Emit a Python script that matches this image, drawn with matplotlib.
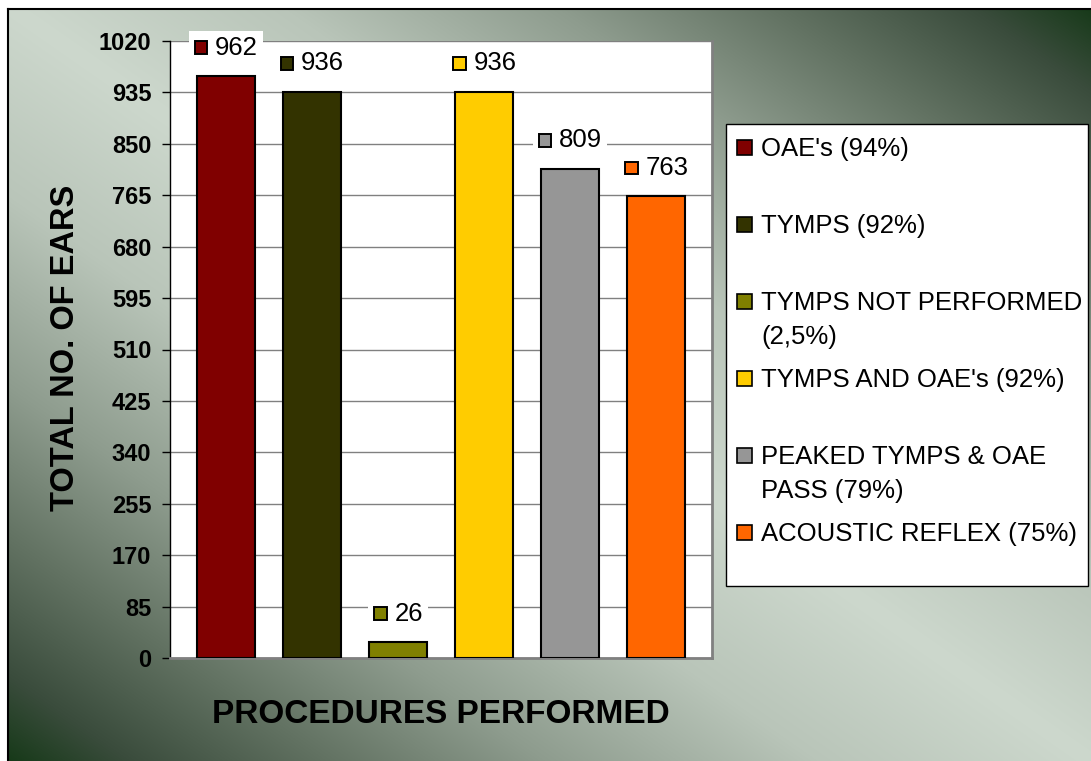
import numpy as np
import matplotlib
matplotlib.use("Agg")
import matplotlib.pyplot as plt
from matplotlib.patches import Rectangle
from matplotlib.lines import Line2D
from matplotlib.offsetbox import AnnotationBbox, DrawingArea, TextArea, HPacker

plt.rcParams['font.family'] = ['Liberation Sans', 'DejaVu Sans']

# Data
procedures = [
    "OAE's (94%)",
    "TYMPS (92%)",
    "TYMPS NOT PERFORMED\n(2,5%)",
    "TYMPS AND OAE's (92%)",
    "PEAKED TYMPS & OAE\nPASS (79%)",
    "ACOUSTIC REFLEX (75%)",
]
ears = [962, 936, 26, 936, 809, 763]
bar_colors = ["#800000", "#333300", "#808000", "#FFCC00", "#969696", "#FF6600"]
y_ticks = list(range(0, 1021, 85))

W, H = 1091, 761
fig = plt.figure(figsize=(W / 100, H / 100), dpi=100)
fig.patch.set_facecolor('white')


def fx(px):
    return px / W


def fy(py):
    return 1 - py / H


# Diagonal gradient backdrop: light along the main diagonal, dark green at the other corners
bg = fig.add_axes([fx(8), 0, 1 - fx(8), fy(9)])
bg.set_axis_off()
hgt, wid = H - 9, W - 8
yy, xx = np.mgrid[0:hgt, 0:wid]
u = (xx + 8) / W
v = (yy + 9) / H
t = np.abs(u - v)
stops = [0.0, 0.25, 0.5, 0.7, 0.88, 1.0]
red = [0xcd, 0xb9, 0x8e, 0x62, 0x3a, 0x14]
green = [0xd8, 0xc5, 0x9c, 0x72, 0x4c, 0x38]
blue = [0xcd, 0xb9, 0x8e, 0x62, 0x3c, 0x16]
img = np.dstack([np.interp(t, stops, ch) / 255.0 for ch in (red, green, blue)])
bg.imshow(img, aspect='auto', extent=[0, 1, 0, 1], interpolation='bilinear')
bg.set_xlim(0, 1)
bg.set_ylim(0, 1)
fig.add_artist(Line2D([fx(8), fx(8)], [0, fy(9)], color='black', lw=1.5))
fig.add_artist(Line2D([fx(8), 1], [fy(9), fy(9)], color='black', lw=1.5))

# Plot area
ax = fig.add_axes([fx(170), fy(658), fx(712) - fx(170), (658 - 41) / H])
ax.set_facecolor('white')
x = np.arange(len(ears))
ax.bar(x, ears, width=0.67, color=bar_colors, edgecolor='black', linewidth=1.5, zorder=3)
ax.set_xlim(-0.65, 5.65)
ax.set_ylim(0, 1020)
ax.set_yticks(y_ticks)
ax.set_yticklabels([str(tk) for tk in y_ticks], fontsize=17, fontweight='bold')
ax.set_xticks([])
ax.yaxis.grid(True, color='#808080', lw=1)
ax.set_axisbelow(True)
ax.tick_params(axis='y', direction='out', length=5.5, width=1, color='black', pad=8)
ax.spines['top'].set_visible(False)
ax.spines['left'].set_color('black')
ax.spines['left'].set_linewidth(1)
ax.spines['right'].set_color('#808080')
ax.spines['right'].set_linewidth(2)
ax.spines['bottom'].set_color('#808080')
ax.spines['bottom'].set_linewidth(2)

# Value labels with colour key
for xi, val, c in zip(x, ears, bar_colors):
    key = DrawingArea(10.5, 10.5, 0, 0)
    key.add_artist(Rectangle((0.6, 0.6), 9.3, 9.3, fc=c, ec='black', lw=1.4))
    txt = TextArea(str(val), textprops=dict(fontsize=18.5, color='black'))
    pack = HPacker(children=[key, txt], align='center', pad=0, sep=5)
    ab = AnnotationBbox(pack, (xi, val), xybox=(0, 20.5), xycoords='data',
                        boxcoords='offset points', frameon=True, pad=0.35,
                        bboxprops=dict(fc='white', ec='none'),
                        annotation_clip=False, zorder=4)
    ax.add_artist(ab)

# Axis titles
fig.text(fx(441), fy(723), "PROCEDURES PERFORMED", fontsize=24, fontweight='bold',
         ha='center', va='baseline')
fig.text(fx(74), fy(347.5), "TOTAL NO. OF EARS", fontsize=23.5, fontweight='bold',
         rotation=90, rotation_mode='anchor', ha='center', va='baseline')

# Legend panel
fig.add_artist(Rectangle((fx(726), fy(586)), fx(1088) - fx(726), (586 - 124) / H,
                         transform=fig.transFigure, fc='white', ec='black', lw=1))
for i, (label, c) in enumerate(zip(procedures, bar_colors)):
    y0 = 147 + 77 * i
    fig.add_artist(Rectangle((fx(737), fy(y0 + 7.5)), 15 / W, 15 / H,
                             transform=fig.transFigure, fc=c, ec='black', lw=1.2))
    for j, line in enumerate(label.split('\n')):
        fig.text(fx(761), fy(y0 + 34 * j + 9), line, fontsize=18.5,
                 ha='left', va='baseline')

fig.savefig('out.png', dpi=100, facecolor=fig.get_facecolor())
